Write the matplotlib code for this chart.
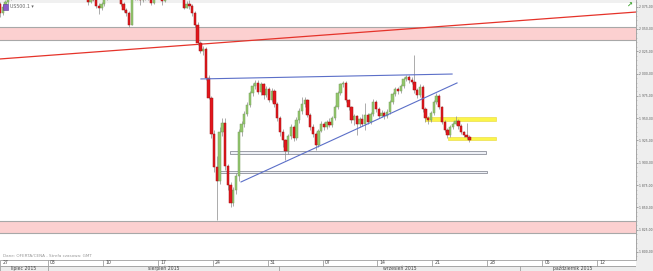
import numpy as np
import matplotlib.pyplot as plt
from matplotlib.patches import Rectangle

plt.rcParams['font.family'] = ['DejaVu Sans']

# US500.1, 6h candles from 27.07.2015 12:00 GMT (index 0) to 24.09.2015
first_open = 2078
closes = [2068, 2075, 2080, 2085, 2092, 2094, 2095, 2098, 2106, 2108,
          2107, 2104, 2102, 2108, 2110, 2106, 2108, 2104, 2103, 2102,
          2094, 2098, 2097, 2094, 2089, 2093, 2096, 2102, 2104, 2099,
          2098, 2092, 2080, 2085, 2083, 2076, 2073, 2078, 2085, 2094,
          2102, 2104, 2098, 2090, 2078, 2071, 2068, 2055, 2086, 2085,
          2088, 2082, 2084, 2087, 2085, 2079, 2086, 2091, 2088, 2081,
          2092, 2101, 2100, 2098, 2096, 2097, 2090, 2074, 2078, 2076,
          2068, 2054, 2034, 2025, 2028, 1995, 1973, 1932, 1895, 1880,
          1934, 1945, 1896, 1875, 1855, 1870, 1885, 1935, 1944, 1955,
          1965, 1978, 1986, 1990, 1979, 1988, 1976, 1983, 1970, 1981,
          1966, 1950, 1935, 1925, 1913, 1930, 1940, 1928, 1948, 1958,
          1966, 1970, 1954, 1940, 1932, 1920, 1936, 1944, 1940, 1946,
          1942, 1950, 1962, 1978, 1988, 1990, 1970, 1962, 1948, 1952,
          1944, 1949, 1943, 1954, 1946, 1955, 1968, 1960, 1953, 1956,
          1952, 1957, 1968, 1977, 1983, 1980, 1986, 1994, 1996, 1993,
          1991, 1982, 1976, 1985, 1960, 1950, 1948, 1956, 1968, 1975,
          1962, 1946, 1937, 1931, 1940, 1944, 1947, 1941, 1934, 1931,
          1929, 1925]
highs = [2080, 2078, 2082, 2087, 2094, 2097, 2098, 2100, 2108, 2111,
         2110, 2109, 2106, 2110, 2113, 2112, 2110, 2110, 2106, 2105,
         2104, 2100, 2100, 2099, 2096, 2095, 2098, 2104, 2107, 2106,
         2101, 2100, 2094, 2087, 2088, 2085, 2079, 2080, 2088, 2096,
         2104, 2107, 2106, 2100, 2092, 2080, 2074, 2070, 2089, 2090,
         2091, 2090, 2087, 2090, 2090, 2087, 2088, 2093, 2094, 2090,
         2094, 2103, 2104, 2102, 2100, 2099, 2099, 2092, 2081, 2082,
         2078, 2070, 2058, 2036, 2031, 2030, 1998, 1975, 1937, 1908,
         1940, 1950, 1950, 1899, 1878, 1873, 1888, 1938, 1947, 1958,
         1968, 1981, 1990, 1993, 1993, 1991, 1990, 1986, 1985, 1984,
         1983, 1968, 1952, 1938, 1927, 1932, 1943, 1942, 1951, 1961,
         1974, 1974, 1972, 1956, 1943, 1934, 1938, 1947, 1946, 1948,
         1950, 1952, 1965, 1980, 1990, 1992, 1992, 1972, 1964, 1955,
         1954, 1951, 1955, 1967, 1956, 1957, 1972, 1970, 1962, 1959,
         1958, 1960, 1970, 1979, 1985, 1985, 1988, 1996, 1998, 1998,
         1996, 2021, 1984, 1988, 1987, 1962, 1953, 1958, 1970, 1978,
         1977, 1964, 1948, 1939, 1942, 1946, 1953, 1949, 1944, 1936,
         1945, 1931]
lows = [2064, 2066, 2073, 2078, 2083, 2090, 2091, 2093, 2096, 2104,
        2104, 2101, 2099, 2100, 2106, 2103, 2104, 2101, 2100, 2099,
        2091, 2092, 2094, 2091, 2086, 2087, 2091, 2094, 2100, 2097,
        2095, 2089, 2077, 2079, 2081, 2074, 2067, 2071, 2076, 2083,
        2092, 2100, 2095, 2087, 2076, 2069, 2065, 2052, 2054, 2082,
        2083, 2077, 2080, 2082, 2083, 2077, 2078, 2084, 2086, 2077,
        2080, 2090, 2097, 2095, 2093, 2094, 2087, 2072, 2073, 2072,
        2065, 2052, 2032, 2023, 2021, 1993, 1971, 1928, 1890, 1836,
        1876, 1930, 1892, 1870, 1850, 1851, 1865, 1880, 1930, 1940,
        1952, 1962, 1975, 1983, 1977, 1976, 1972, 1974, 1968, 1968,
        1963, 1947, 1930, 1918, 1903, 1910, 1927, 1924, 1926, 1945,
        1955, 1963, 1951, 1937, 1929, 1914, 1918, 1934, 1937, 1938,
        1940, 1940, 1948, 1960, 1976, 1985, 1968, 1959, 1945, 1942,
        1931, 1940, 1941, 1937, 1943, 1944, 1953, 1957, 1950, 1951,
        1949, 1950, 1955, 1966, 1975, 1977, 1978, 1984, 1992, 1990,
        1988, 1978, 1973, 1974, 1957, 1946, 1944, 1946, 1954, 1966,
        1960, 1943, 1934, 1928, 1929, 1938, 1942, 1938, 1932, 1929,
        1927, 1923]

# drawings on the chart (candle index, price)
red_zones = [(2038, 2052), (1821, 1835)]
red_trend = ([0, 231.7], [2016.4, 2069.0])
blue_top = ([73.2, 164.7], [1994.0, 1999.5])
blue_rise = ([87.8, 166.5], [1878.5, 1989.5])
gray_boxes = [(83.8, 177.1, 1909.3, 1912.7), (79.4, 177.4, 1888.0, 1890.8)]
yellow_boxes = [(154.8, 180.7, 1946.9, 1951.3), (163.2, 180.7, 1925.0, 1928.9)]

# time axis
week_pos = [-2.5, 17.5, 37.5, 57.5, 77.5, 97.5, 117.5, 137.5, 157.5, 177.5, 197.5, 217.5]
week_labels = ['27', '03', '10', '17', '24', '31', '07', '14', '21', '28', '05', '12']
month_edges = [-10, 17.5, 101.5, 189.5, 300]
month_labels = ['lipiec 2015', 'sierpień 2015', 'wrzesień 2015', 'październik 2015']
price_ticks = [1800, 1825, 1850, 1875, 1900, 1925, 1950, 1975, 2000, 2025, 2050, 2075]

W, H = 653, 271
fig = plt.figure(figsize=(W / 100, H / 100), dpi=100)
fig.patch.set_facecolor('#eeeeee')  # right price strip colour shows through

xlim = (0, 231.7)
ax = fig.add_axes([0, 11 / H, 636 / W, 260 / H])
ax.set_xlim(*xlim)
ax.set_ylim(1791.0, 2082.5)
ax.set_facecolor('white')
for s in ['top', 'left', 'bottom']:
    ax.spines[s].set_visible(False)
ax.spines['right'].set_color('#9a9a9a')
ax.spines['right'].set_linewidth(0.6)
ax.set_xticks([])
ax.yaxis.tick_right()
ax.set_yticks(price_ticks)
ax.set_yticks(np.arange(1795, 2081, 5), minor=True)
ax.set_yticklabels([f'{v:,.2f}'.replace(',', ' ').replace('.', ',') for v in price_ticks])
ax.tick_params(axis='y', which='major', length=1.5, width=0.5, color='#888888',
               labelsize=2.2, labelcolor='#555555', pad=0.4)
ax.tick_params(axis='y', which='minor', length=1, width=0.4, color='#aaaaaa')

# light header strip
ax.axhspan(2079.5, 2083, color='#f0f0f0', lw=0, zorder=0)

# support / resistance zones
for lo, hi in red_zones:
    ax.axhspan(lo, hi, facecolor='#fcd0d0', edgecolor='none', zorder=1)
    ax.axhline(lo, color='#a8a8a8', lw=0.8, zorder=1)
    ax.axhline(hi, color='#a8a8a8', lw=0.8, zorder=1)

ax.plot(*red_trend, color='#e5332a', lw=0.9, zorder=3)

for x0, x1, lo, hi in gray_boxes:
    ax.add_patch(Rectangle((x0, lo), x1 - x0, hi - lo, facecolor='#eef0f6',
                           edgecolor='#8c8f9a', lw=0.6, zorder=1))
for x0, x1, lo, hi in yellow_boxes:
    ax.add_patch(Rectangle((x0, lo), x1 - x0, hi - lo, facecolor='#fbf54a',
                           edgecolor='#e8d838', lw=0.4, zorder=1))

# candles
idx = np.arange(len(closes))
c = np.array(closes, dtype=float)
o = np.array([first_open] + closes[:-1], dtype=float)
ax.vlines(idx, lows, highs, color='#8a8a8a', lw=0.5, zorder=4)
up = c >= o
body = np.maximum(np.abs(c - o), 0.8)
ax.bar(idx[up], body[up], bottom=np.minimum(o, c)[up], width=0.85,
       color='#93c76a', edgecolor='#7a9f62', lw=0.35, zorder=5)
ax.bar(idx[~up], body[~up], bottom=np.minimum(o, c)[~up], width=0.85,
       color='#e3161c', edgecolor='#a01414', lw=0.35, zorder=5)

ax.plot(*blue_top, color='#5b6fc8', lw=0.8, zorder=6)
ax.plot(*blue_rise, color='#5b6fc8', lw=0.8, zorder=6)

# time axis rows
dax = fig.add_axes([0, 0, 636 / W, 11 / H])
dax.set_xlim(*xlim)
dax.set_ylim(0, 2)
dax.axis('off')
dax.add_patch(Rectangle((xlim[0], 1), xlim[1] - xlim[0], 1, facecolor='white',
                        edgecolor='#a0a0a0', lw=0.6))
dax.add_patch(Rectangle((xlim[0], 0), xlim[1] - xlim[0], 1, facecolor='#ececec',
                        edgecolor='#a0a0a0', lw=0.6))
for p, lab in zip(week_pos, week_labels):
    dax.plot([p, p], [1, 2], color='#a0a0a0', lw=0.6)
    dax.text(max(p, 0.3) + 0.8, 1.5, lab, fontsize=3.3, color='#444444',
             va='center', ha='left')
for i, lab in enumerate(month_labels):
    a, b = month_edges[i], month_edges[i + 1]
    dax.plot([b, b], [0, 1], color='#a0a0a0', lw=0.6)
    mid = (max(a, xlim[0]) + min(b, xlim[1] - 4)) / 2
    dax.text(mid, 0.5, lab, fontsize=3.3, color='#444444', va='center', ha='center')

# labels / icons
fig.text(3 / W, 1 - 256 / H, 'Dane: OFERTA/CENA - Strefa czasowa: GMT', fontsize=3,
         color='#999999', va='center')
fig.patches.append(Rectangle((3 / W, 1 - 10 / H), 5 / W, 6 / H, transform=fig.transFigure,
                             facecolor='#8a5cc8', edgecolor='#5a3a90', lw=0.4, zorder=10))
fig.text(10 / W, 1 - 7 / H, 'US500.1 \u25be', fontsize=3.4, color='#666666', va='center')
fig.text(629 / W, 1 - 6 / H, '\u2197', fontsize=5, color='#3aa02a', va='center', ha='center',
         fontweight='bold')

fig.savefig('out.png', dpi=100)
